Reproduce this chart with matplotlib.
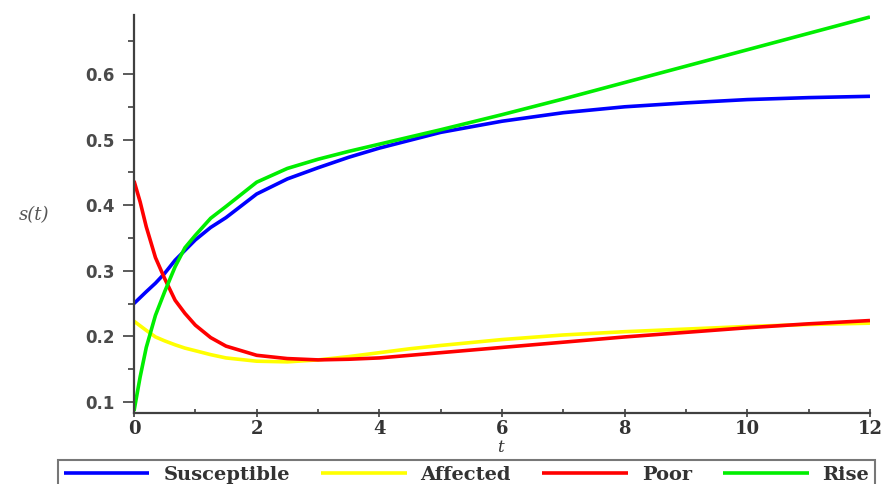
import matplotlib
matplotlib.use("Agg")
import matplotlib.pyplot as plt
from matplotlib.ticker import MultipleLocator

# ---- data ----
t = [0, 0.1, 0.2, 0.35, 0.5, 0.67, 0.83, 1, 1.25, 1.5, 2, 2.5, 3, 3.5, 4,
     4.5, 5, 6, 7, 8, 9, 10, 11, 12]
susceptible = [0.25, 0.259, 0.268, 0.281, 0.296, 0.316, 0.331, 0.347, 0.366,
               0.381, 0.417, 0.44, 0.457, 0.473, 0.487, 0.499, 0.511, 0.528,
               0.541, 0.55, 0.556, 0.561, 0.564, 0.566]
affected = [0.223, 0.216, 0.209, 0.199, 0.193, 0.187, 0.182, 0.178, 0.172,
            0.167, 0.162, 0.161, 0.164, 0.169, 0.175, 0.181, 0.186, 0.195,
            0.202, 0.207, 0.211, 0.215, 0.218, 0.22]
poor = [0.437, 0.405, 0.367, 0.32, 0.288, 0.255, 0.235, 0.217, 0.198, 0.185,
        0.171, 0.166, 0.164, 0.165, 0.167, 0.171, 0.175, 0.183, 0.191, 0.199,
        0.206, 0.213, 0.219, 0.224]
rise = [0.086, 0.138, 0.183, 0.232, 0.268, 0.306, 0.335, 0.354, 0.38, 0.398,
        0.435, 0.456, 0.47, 0.482, 0.493, 0.504, 0.515, 0.538, 0.562, 0.587,
        0.612, 0.637, 0.662, 0.687]

series_names = ["Susceptible", "Affected", "Poor", "Rise"]
series_colors = ["#0000ff", "#ffff00", "#ff0000", "#00ee00"]
x_ticks = [0, 2, 4, 6, 8, 10, 12]
y_ticks = [0.1, 0.2, 0.3, 0.4, 0.5, 0.6]

fig = plt.figure(figsize=(8.87, 4.84), dpi=100)
ax = fig.add_axes([134 / 887, 71 / 484, (870 - 134) / 887, (413 - 15) / 484])

for vals, name, col in zip([susceptible, affected, poor, rise], series_names, series_colors):
    ax.plot(t, vals, color=col, lw=2.6, label=name, solid_capstyle="butt",
            solid_joinstyle="round")

ax.set_xlim(0, 12)
ax.set_ylim(0.083, 0.69)
ax.spines["top"].set_visible(False)
ax.spines["right"].set_visible(False)
for s in ("left", "bottom"):
    ax.spines[s].set_color("#404040")
    ax.spines[s].set_linewidth(1.6)

ax.set_xticks(x_ticks)
ax.set_xticklabels([str(v) for v in x_ticks], fontfamily="DejaVu Serif",
                   fontweight="bold", fontsize=13, color="#333333")
ax.set_yticks(y_ticks)
ax.set_yticklabels([f"{v:.1f}" for v in y_ticks], fontfamily="DejaVu Sans",
                   fontweight="bold", fontsize=12, color="#4a4a4a")
ax.xaxis.set_minor_locator(MultipleLocator(1))
ax.yaxis.set_minor_locator(MultipleLocator(0.05))
ax.tick_params(axis="x", which="major", direction="inout", length=6, width=1.2,
               color="#404040", pad=2)
ax.tick_params(axis="x", which="minor", direction="in", length=3, width=1.2,
               color="#404040")
ax.tick_params(axis="y", which="major", direction="out", length=8, width=1.2,
               color="#404040", pad=6)
ax.tick_params(axis="y", which="minor", direction="out", length=4, width=1.2,
               color="#404040")

fig.text(500 / 887, 1 - 447 / 484, "t", fontfamily="DejaVu Serif",
         fontstyle="italic", fontsize=12, color="#333333", ha="center", va="center")
fig.text(34 / 887, 1 - 215 / 484, "s(t)", fontfamily="DejaVu Serif",
         fontstyle="italic", fontsize=13, color="#555555", ha="center", va="center")

leg = fig.legend(loc="lower left", bbox_to_anchor=(58 / 887, -0.012), ncol=4,
                 frameon=True, fancybox=False, handlelength=4.4,
                 handletextpad=0.72, columnspacing=1.6, borderpad=0.3,
                 borderaxespad=0.0,
                 prop={"family": "DejaVu Serif", "weight": "bold", "size": 14})
leg.get_frame().set_edgecolor("#555555")
leg.get_frame().set_linewidth(1.5)
for txt in leg.get_texts():
    txt.set_color("#333333")

fig.savefig("out.png", dpi=100)
